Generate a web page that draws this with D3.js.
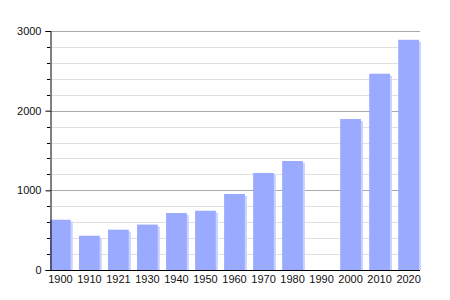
<!DOCTYPE html>
<html>
<head>
<meta charset="utf-8">
<script src="https://cdn.jsdelivr.net/npm/d3@7"></script>
<style>
  body { margin: 0; background: #fff; }
  svg { display: block; }
  text { font-family: "Liberation Sans", Arial, sans-serif; font-size: 11px; fill: #111; }
</style>
</head>
<body>
<svg id="chart" width="450" height="300"></svg>
<script>
// population by census year (1990 has no figure)
const years = ["1900", "1910", "1921", "1930", "1940", "1950", "1960", "1970", "1980", "1990", "2000", "2010", "2020"]
const population = [631, 430, 506, 570, 715, 744, 954, 1218, 1368, null, 1895, 2464, 2890]
const majorTicks = [0, 1000, 2000, 3000]
const minorTicks = [200, 400, 600, 800, 1200, 1400, 1600, 1800, 2200, 2400, 2600, 2800]

var svg = d3.select("#chart")

var x = d3.scaleBand()
    .domain(years)
    .range([50, 420])
    .paddingInner(0.25)
    .paddingOuter(0)
    .align(0)

var y = d3.scaleLinear()
    .domain([0, 3000])
    .range([270, 31])

// grid lines
svg.append("g")
    .selectAll("line")
    .data(minorTicks)
    .enter().append("line")
    .attr("x1", 50).attr("x2", 420)
    .attr("y1", d => Math.round(y(d)) + 0.5)
    .attr("y2", d => Math.round(y(d)) + 0.5)
    .attr("stroke", "#e0e0e0")

svg.append("g")
    .selectAll("line")
    .data(majorTicks.filter(d => d > 0))
    .enter().append("line")
    .attr("x1", 50).attr("x2", 420)
    .attr("y1", d => Math.round(y(d)) + 0.5)
    .attr("y2", d => Math.round(y(d)) + 0.5)
    .attr("stroke", "#aaaaaa")

// bars, with a soft light edge on the right
var rows = years.map((yr, i) => ({ year: yr, value: population[i] })).filter(d => d.value != null)

svg.append("g")
    .selectAll("rect")
    .data(rows)
    .enter().append("rect")
    .attr("x", d => x(d.year) + x.bandwidth() - 1)
    .attr("y", d => y(d.value) + 2)
    .attr("width", 2)
    .attr("height", d => y(0) - y(d.value) - 2)
    .attr("fill", "#c9d2ff")

svg.append("g")
    .selectAll("rect")
    .data(rows)
    .enter().append("rect")
    .attr("x", d => x(d.year))
    .attr("y", d => y(d.value))
    .attr("width", x.bandwidth() - 1)
    .attr("height", d => y(0) - y(d.value))
    .attr("fill", "#99aaff")

// y axis
var yAxis = svg.append("g")
    .attr("transform", "translate(50.5,0)")
    .call(d3.axisLeft(y).tickValues(majorTicks).tickSize(5).tickPadding(4).tickFormat(d3.format("d")))
yAxis.select(".domain").attr("stroke", "#000")
yAxis.selectAll(".tick line").attr("stroke", "#000")

svg.append("g")
    .selectAll("line")
    .data(minorTicks)
    .enter().append("line")
    .attr("x1", 47).attr("x2", 50)
    .attr("y1", d => Math.round(y(d)) + 0.5)
    .attr("y2", d => Math.round(y(d)) + 0.5)
    .attr("stroke", "#000")

// x axis, labels centred under the bars
var xAxis = svg.append("g")
    .attr("transform", "translate(0," + (y(0) + 0.5) + ")")
    .call(d3.axisBottom(x).tickSize(0).tickPadding(5))
xAxis.select(".domain").attr("stroke", "#000").attr("d", "M50,0H420")
xAxis.selectAll(".tick").attr("transform", d => "translate(" + (x(d) + (x.bandwidth() - 1) / 2) + ",0)")
</script>
</body>
</html>
